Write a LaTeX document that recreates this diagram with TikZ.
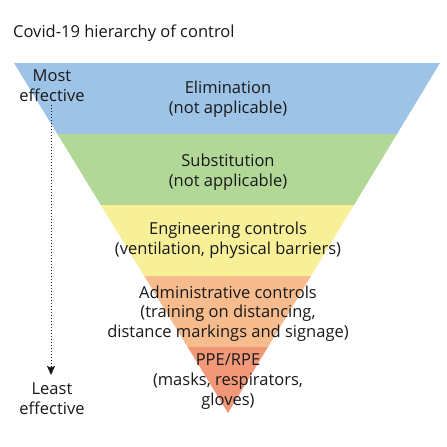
\documentclass[tikz,border=0pt]{standalone}
\usepackage{fontspec}
\setmainfont{Open Sans}
\usetikzlibrary{arrows.meta}
\definecolor{cblue}{RGB}{157,195,230}
\definecolor{cgreen}{RGB}{178,216,152}
\definecolor{cyellow}{RGB}{247,240,152}
\definecolor{corange}{RGB}{246,188,142}
\definecolor{cred}{RGB}{241,152,120}
\definecolor{ctext}{RGB}{25,25,25}
\tikzset{
  lbl/.style={align=center, font=\fontsize{16.5}{19.6}\selectfont, text=ctext, inner sep=0pt}
}
\begin{document}
\begin{tikzpicture}[x=1pt,y=-1pt]
\useasboundingbox (0,0) rectangle (447,447);
\fill[white] (0,0) rectangle (447,447);
\coordinate (A) at (228,413);
\fill[cblue]   (14,63) -- (440,63) -- (397.0,134) -- (57.4,134) -- cycle;
\fill[cgreen]  (57.4,134) -- (397.0,134) -- (354.0,205) -- (100.8,205) -- cycle;
\fill[cyellow] (100.8,205) -- (354.0,205) -- (311.0,276) -- (144.2,276) -- cycle;
\fill[corange] (144.2,276) -- (311.0,276) -- (268.0,347) -- (187.6,347) -- cycle;
\fill[cred]    (187.6,347) -- (268.0,347) -- (A) -- cycle;

\node[lbl, anchor=west] (title) at (13,33) {Covid-19 hierarchy of control};

\node[lbl] (elim) at (228,99.5) {Elimination\\(not applicable)};
\node[lbl] (subs) at (228,172.5) {Substitution\\(not applicable)};
\node[lbl] (eng) at (228,240.5) {Engineering controls\\(ventilation, physical barriers)};
\node[lbl] (adm) at (228,313.5) {Administrative controls\\(training on distancing,\\distance markings and signage)};
\node[lbl] (ppe) at (228,381.5) {PPE/RPE\\(masks, respirators,\\gloves)};

\node[lbl] (most) at (52,85.5) {Most\\effective};
\node[lbl] (least) at (52,398.5) {Least\\effective};
\coordinate (arrS) at (51,105);
\coordinate (arrE) at (51,375);
\draw[dotted, line width=1pt, ctext, -{Stealth[length=9pt,width=8pt,inset=1.5pt]}] (arrS) -- (arrE);
\end{tikzpicture}
\end{document}
